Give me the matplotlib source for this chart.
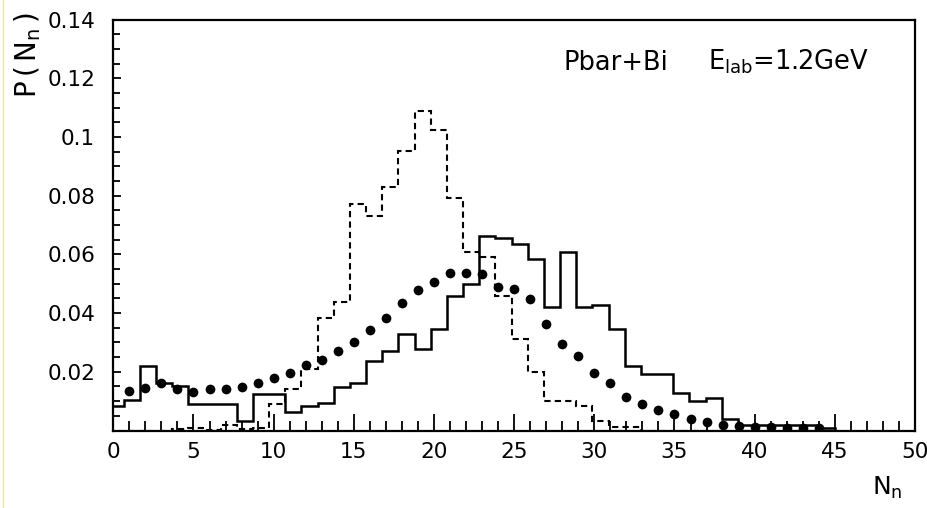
import numpy as np
import matplotlib.pyplot as plt
from matplotlib.ticker import MultipleLocator, FixedLocator, FixedFormatter
from matplotlib.lines import Line2D

# neutron multiplicity, black dots
n_points = np.arange(1, 45)
p_points = [0.0135, 0.0146, 0.0161, 0.0141, 0.0132, 0.0140, 0.0140, 0.0149,
            0.0163, 0.0178, 0.0195, 0.0223, 0.0240, 0.0271, 0.0302, 0.0342,
            0.0382, 0.0433, 0.0479, 0.0507, 0.0537, 0.0537, 0.0533, 0.0490,
            0.0481, 0.0448, 0.0362, 0.0295, 0.0254, 0.0195, 0.0163, 0.0115,
            0.0090, 0.0071, 0.0056, 0.0038, 0.0028, 0.0019, 0.0015, 0.0013,
            0.0012, 0.0010, 0.0009, 0.0008]

# histogram bins 0..44 (edges as they sit in the picture)
bin_edges = 0.64 + 1.0083 * np.arange(-1, 45)
solid_hist = [0.0085, 0.0104, 0.0220, 0.0161, 0.0153, 0.0090, 0.0090, 0.0090,
              0.0032, 0.0123, 0.0123, 0.0064, 0.0083, 0.0093, 0.0149, 0.0161,
              0.0238, 0.0271, 0.0329, 0.0278, 0.0345, 0.0459, 0.0499, 0.0662,
              0.0655, 0.0636, 0.0583, 0.0420, 0.0609, 0.0420, 0.0427, 0.0345,
              0.0221, 0.0193, 0.0193, 0.0129, 0.0101, 0.0110, 0.0039, 0.0020,
              0.0020, 0.0020, 0.0020, 0.0020, 0.0008]
dashed_hist = [0, 0, 0, 0, 0.0005, 0.0008, 0.0003, 0.0018,
               0.0005, 0.0010, 0.0090, 0.0140, 0.0210, 0.0382, 0.0439, 0.0771,
               0.0731, 0.0828, 0.0952, 0.1089, 0.1023, 0.0791, 0.0609, 0.0591,
               0.0459, 0.0311, 0.0200, 0.0101, 0.0101, 0.0083, 0.0033, 0.0011,
               0.0011, 0, 0, 0, 0, 0, 0, 0,
               0, 0, 0, 0, 0]

y_ticks = [0.02, 0.04, 0.06, 0.08, 0.10, 0.12, 0.14]
y_ticklabels = ['0.02', '0.04', '0.06', '0.08', '0.1', '0.12', '0.14']

fig = plt.figure(figsize=(9.28, 5.08), dpi=100)
ax = fig.add_axes([113.3 / 928, 1 - 430.5 / 508, (915 - 113.3) / 928, (430.5 - 19.5) / 508])

ax.stairs(solid_hist, bin_edges, color='black', lw=1.8, baseline=0)
ax.stairs(dashed_hist, bin_edges, color='black', lw=1.5, baseline=0,
          linestyle=(0, (3, 2)))
ax.plot(n_points, p_points, 'o', color='black', ms=7, mew=0, zorder=3)

ax.set_xlim(0, 50)
ax.set_ylim(0, 0.14)

for s in ax.spines.values():
    s.set_linewidth(1.6)

ax.xaxis.set_major_locator(MultipleLocator(5))
ax.xaxis.set_minor_locator(MultipleLocator(1))
ax.yaxis.set_major_locator(FixedLocator(y_ticks))
ax.yaxis.set_major_formatter(FixedFormatter(y_ticklabels))
ax.yaxis.set_minor_locator(MultipleLocator(0.005))
ax.tick_params(axis='x', which='major', direction='in', length=12, width=1.3,
               labelsize=15.5, pad=8)
ax.tick_params(axis='x', which='minor', direction='in', length=7, width=1.3)
ax.tick_params(axis='y', which='major', direction='in', length=6, width=1.3,
               labelsize=15.5, pad=13)
ax.tick_params(axis='y', which='minor', direction='in', length=5, width=1.3)

# title text placed in two pieces, as spaced in the original
fig.text(563 / 928, 1 - 70 / 508, 'Pbar+Bi', fontsize=18.5, ha='left',
         va='baseline')
fig.text(869 / 928, 1 - 70 / 508, r'E$_{\mathregular{lab}}$=1.2GeV',
         fontsize=18.5, ha='right', va='baseline')

fig.text(28 / 928, 1 - 12 / 508,
         r'P$\,\left(\,\mathregular{N_n}\,\right)$',
         fontsize=20, rotation=90, ha='center', va='top')
fig.text(903 / 928, 1 - 495 / 508, r'N$_{\mathregular{n}}$', fontsize=18,
         ha='right', va='baseline')

# faint yellow border line at the left edge
fig.add_artist(Line2D([3.5 / 928, 3.5 / 928], [0, 1], color='#f4ee80', lw=1))

fig.savefig('out.png', dpi=100)
